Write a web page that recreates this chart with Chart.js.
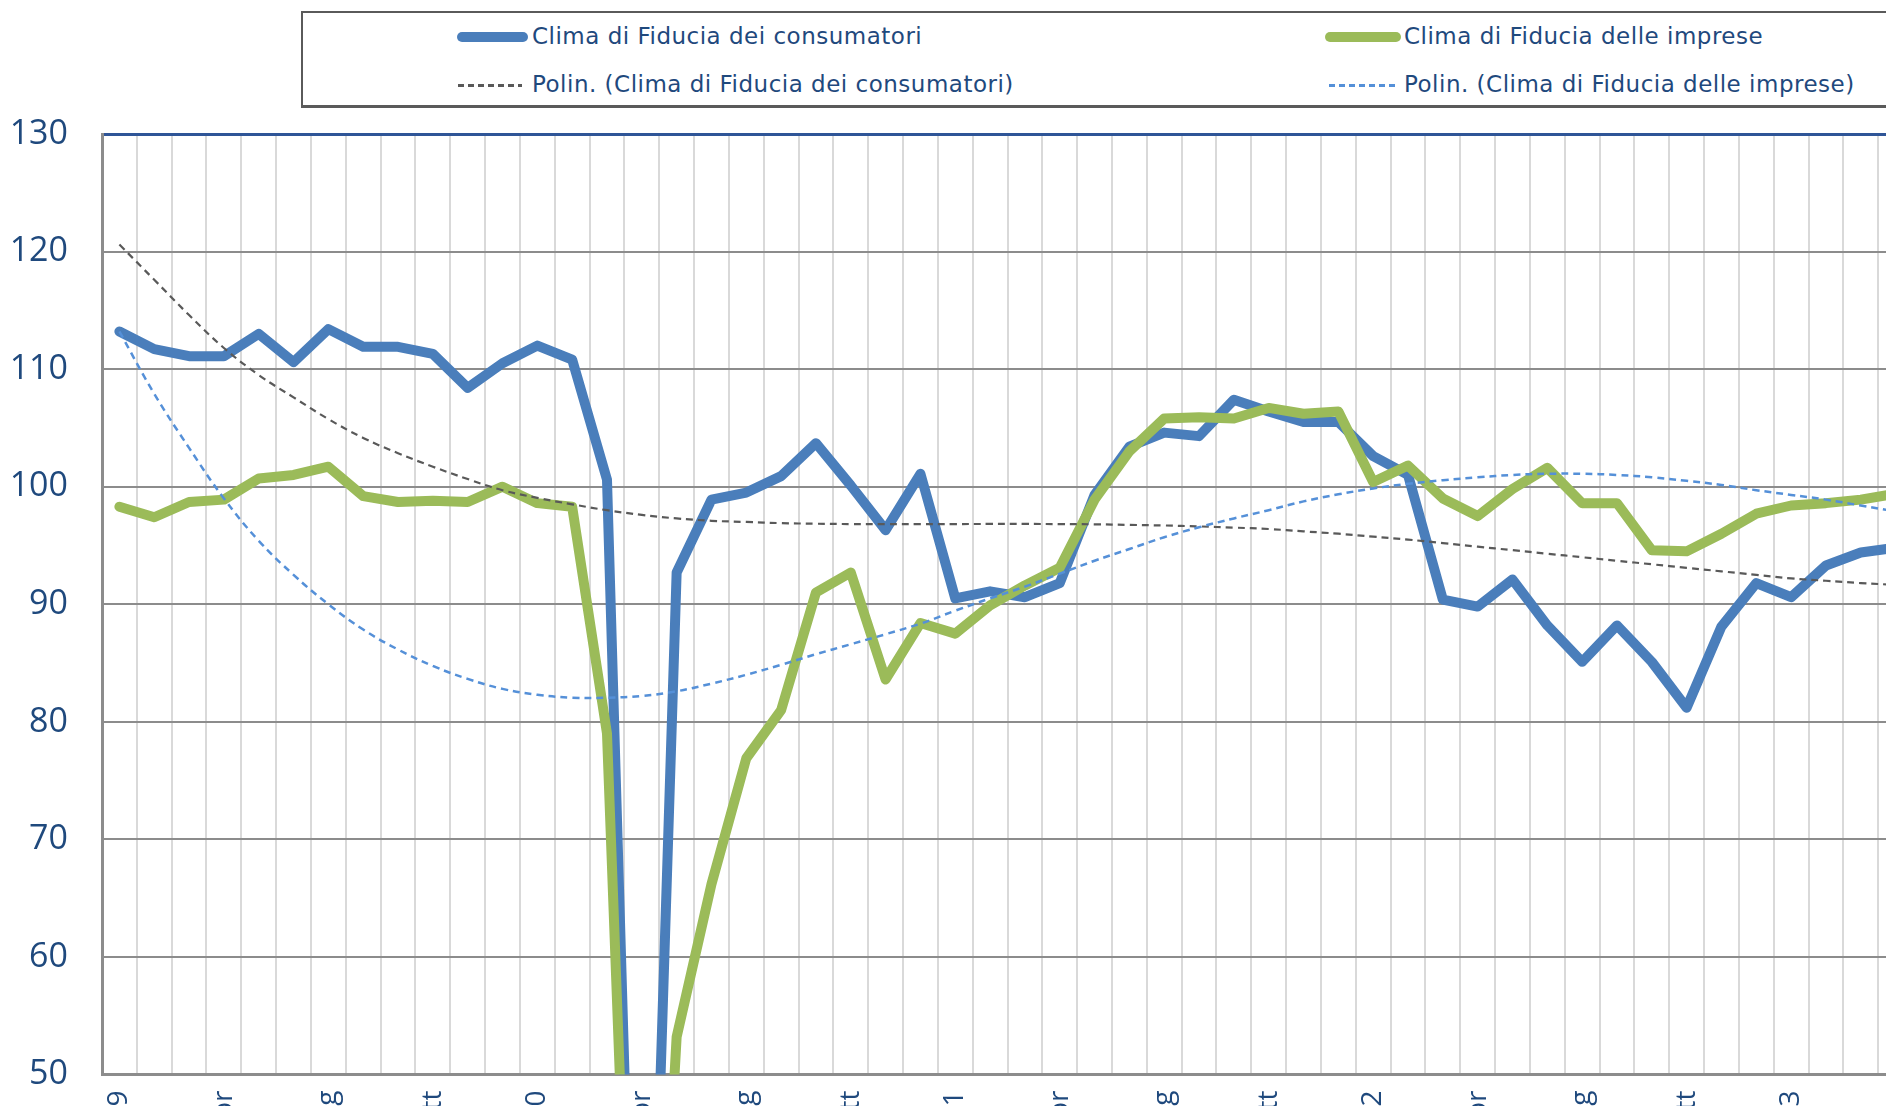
<!DOCTYPE html>
<html>
<head>
<meta charset="utf-8">
<script src="https://cdn.jsdelivr.net/npm/chart.js@4.4.1/dist/chart.umd.min.js"></script>
<style>
    body{margin:0;overflow:hidden;background:#fff;width:1886px;height:1106px;position:relative;font-family:'DejaVu Sans',sans-serif;}
    #Grafico1{position:absolute;left:0;top:0;}
    #leyenda{position:absolute;left:301px;top:11px;width:1700px;height:92px;border:2px solid #5a5a5a;border-bottom-width:3px;background:#fff;}
    .muestra{position:absolute;}
    .texto{position:absolute;font-size:23px;letter-spacing:0.5px;color:#1F497D;line-height:28px;white-space:nowrap;}
</style>
</head>
<body>
<canvas id="Grafico1" width="1930" height="1106"></canvas>
<div id="leyenda"></div>
<script>
// dati mensili gen 2019 - apr 2023 (apr 2020 non rilevato = 0)
let mesi=['gen','feb','mar','apr','mag','giu','lug','ago','set','ott','nov','dic'];
let anni=['2019','2020','2021','2022','2023'];
let consumatori=[113.2,111.7,111.1,111.1,113.0,110.6,113.4,111.9,111.9,111.3,108.4,110.5,
                 112.0,110.8,100.6,0,92.7,98.9,99.5,100.9,103.7,100.1,96.3,101.1,
                 90.5,91.1,90.6,91.8,99.3,103.4,104.6,104.3,107.4,106.4,105.5,105.5,
                 102.6,101.0,90.4,89.8,92.1,88.2,85.1,88.2,85.1,81.2,88.1,91.8,
                 90.6,93.3,94.4,94.8];
let imprese=[98.3,97.4,98.7,98.9,100.7,101.0,101.7,99.2,98.7,98.8,98.7,100.0,
             98.6,98.3,79.0,0,53.2,66.2,76.9,81.0,91.0,92.7,83.6,88.4,
             87.5,89.9,91.6,93.1,98.9,103.0,105.8,105.9,105.8,106.7,106.2,106.4,
             100.4,101.8,99.0,97.5,99.8,101.6,98.6,98.6,94.6,94.5,96.0,97.7,
             98.4,98.6,98.9,99.4];
let polinConsumatori=[120.6,117.6,114.6,111.8,109.5,107.6,105.75,104.15,102.85,101.7,100.65,99.7,
                      99.05,98.5,98.0,97.6,97.3,97.1,97.0,96.9,96.85,96.82,96.81,96.81,
                      96.82,96.83,96.83,96.82,96.8,96.75,96.7,96.62,96.52,96.4,96.2,96.0,
                      95.75,95.5,95.2,94.9,94.6,94.3,94.0,93.7,93.4,93.1,92.8,92.5,
                      92.2,92.0,91.8,91.65];
let polinImprese=[113.2,107.9,103.3,99.0,95.4,92.5,90.0,87.85,86.15,84.75,83.65,82.8,
                  82.3,82.05,82.05,82.2,82.6,83.25,84.0,84.85,85.75,86.6,87.45,88.35,
                  89.45,90.5,91.5,92.6,93.7,94.7,95.7,96.55,97.3,98.0,98.75,99.35,
                  99.85,100.25,100.55,100.8,101.0,101.1,101.1,101.0,100.8,100.5,100.15,99.7,
                  99.3,98.9,98.4,97.9];
let nomi=['Clima di Fiducia dei consumatori','Clima di Fiducia delle imprese',
          'Polin. (Clima di Fiducia dei consumatori)','Polin. (Clima di Fiducia delle imprese)'];
let colori=['#4A7EBB','#9BBB59','#595959','#5590D8'];

let etichette=[];
anni.forEach(anno => {
    mesi.forEach(mese => {
        if(etichette.length<consumatori.length){
            etichette.push(mese=='gen' ? anno : mese);
        }
    });
});

// legenda html
function leyenda(){
    let caja=document.getElementById('leyenda');
    let items=[
        {x:154,y:24,w:71,tipo:'linea',texto:229},
        {x:1022,y:24,w:76,tipo:'linea',texto:1101},
        {x:155,y:72,w:64,tipo:'tratteggio',texto:229},
        {x:1026,y:72,w:68,tipo:'tratteggio',texto:1101},
    ];
    items.forEach((it,i) => {
        let m=document.createElement('div');
        m.className='muestra';
        m.style.left=it.x+'px';
        m.style.width=it.w+'px';
        if(it.tipo=='linea'){
            m.style.top=(it.y-5)+'px';
            m.style.height='10px';
            m.style.borderRadius='5px';
            m.style.background=colori[i];
        }else{
            m.style.top=(it.y-1)+'px';
            m.style.height='2.5px';
            m.style.background='repeating-linear-gradient(to right,'+colori[i]+' 0 6px,transparent 6px 10px)';
        }
        caja.appendChild(m);
        let t=document.createElement('div');
        t.className='texto';
        t.style.left=it.texto+'px';
        t.style.top=(it.y-15)+'px';
        t.textContent=nomi[i];
        caja.appendChild(t);
    });
}
leyenda();

let CanvasG1=document.getElementById('Grafico1').getContext('2d');
let datos={
    labels:etichette,
    datasets:[
        {
            label:nomi[0],
            data:consumatori,
            borderColor:colori[0],
            borderWidth:10,
            borderJoinStyle:'round',
            borderCapStyle:'round',
            pointRadius:0,
            tension:0,
            order:3,
        },
        {
            label:nomi[1],
            data:imprese,
            borderColor:colori[1],
            borderWidth:10,
            borderJoinStyle:'round',
            borderCapStyle:'round',
            pointRadius:0,
            tension:0,
            order:2,
        },
        {
            label:nomi[2],
            data:polinConsumatori,
            borderColor:colori[2],
            borderWidth:2.2,
            borderDash:[7,5],
            pointRadius:0,
            tension:0.4,
            order:1,
        },
        {
            label:nomi[3],
            data:polinImprese,
            borderColor:colori[3],
            borderWidth:2.5,
            borderDash:[7,5],
            pointRadius:0,
            tension:0.4,
            order:0,
        },
    ]
}
let opciones={
    responsive:false,
    maintainAspectRatio:false,
    devicePixelRatio:1,
    animation:false,
    layout:{padding:{top:134,right:17,left:0,bottom:0}},
    plugins:{
        legend:{display:false},
        tooltip:{enabled:false},
    },
    scales:{
        x:{
            offset:true,
            grid:{
                offset:true,
                color:'#D9D9D9',
                lineWidth:2,
                drawTicks:true,
                tickLength:16,
                tickColor:'rgba(0,0,0,0)'
            },
            border:{color:'#8C8C8C',width:3},
            ticks:{
                autoSkip:false,
                minRotation:90,
                maxRotation:90,
                padding:0,
                color:'#1F497D',
                font:{family:'Open Sans',size:28},
                callback:function(valor,indice){
                    return indice%3==0 ? this.getLabelForValue(valor) : '';
                }
            },
            afterFit:function(escala){ escala.height=31.5; }
        },
        y:{
            min:50,
            max:130,
            grid:{
                color:function(c){ return c.tick && c.tick.value==130 ? '#2F5597' : '#8C8C8C'; },
                lineWidth:function(c){ return c.tick && c.tick.value==130 ? 3 : 2; },
                drawTicks:true,
                tickLength:34,
                tickColor:'rgba(0,0,0,0)'
            },
            border:{color:'#8C8C8C',width:3},
            ticks:{
                stepSize:10,
                padding:0,
                color:'#1F497D',
                font:{family:'Open Sans',size:34},
            },
            afterFit:function(escala){ escala.width=102; }
        }
    }
}
let G1=new Chart(CanvasG1,{
    type:'line',
    data:datos,
    options:opciones,
})
</script>
</body>
</html>
